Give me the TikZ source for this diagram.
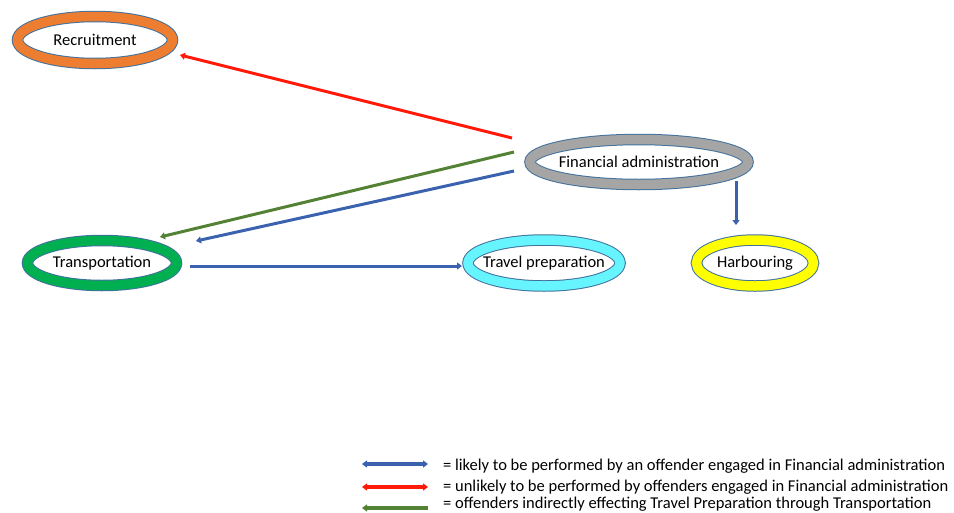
\documentclass[tikz,border=0pt]{standalone}
\usepackage{fontspec}
\setmainfont{Carlito}
\usetikzlibrary{shapes.geometric,arrows.meta}
\definecolor{rimblue}{HTML}{41719C}
\definecolor{ringorange}{HTML}{ED7D31}
\definecolor{ringgray}{HTML}{A5A5A5}
\definecolor{ringgreen}{HTML}{00B050}
\definecolor{ringcyan}{HTML}{66F5FF}
\definecolor{ringyellow}{HTML}{FFFF00}
\definecolor{linkblue}{HTML}{3A62AE}
\definecolor{linkred}{HTML}{FF1A0A}
\definecolor{linkgreen}{HTML}{548235}
\tikzset{
  ring/.style={ellipse, inner xsep=-12pt, inner ysep=-2pt, fill=white, draw=rimblue, line width=1pt,
    double distance=9.5pt, font=\fontsize{16.5}{19}\selectfont},
  link/.style={line width=3pt, -{Triangle[length=5pt,width=7pt]}},
  keyline/.style={line width=3.5pt},
  keytext/.style={anchor=west, inner sep=0pt, font=\fontsize{16.5}{19}\selectfont},
}
\begin{document}
\begin{tikzpicture}[x=1pt,y=-1pt]
\useasboundingbox (0,0) rectangle (954,512);
% role ellipses
\node[ring, double=ringorange, minimum width=155pt, minimum height=47pt] (rec) at (95,40) {Recruitment};
\node[ring, double=ringgray, minimum width=218pt, minimum height=45pt] (fin) at (639,162) {Financial administration};
\node[ring, double=ringgreen, minimum width=149pt, minimum height=45pt] (tra) at (102,263) {Transportation};
\node[ring, double=ringcyan, minimum width=152pt, minimum height=46pt] (tp) at (544,263) {Travel preparation};
\node[ring, double=ringyellow, minimum width=117pt, minimum height=46pt] (har) at (755,263) {Harbouring};
% links between roles
\draw[link, linkred] ([shift={(-127,-24)}]fin.center) -- ([shift={(85,15)}]rec.center);
\draw[link, linkgreen] ([shift={(-125,-10)}]fin.center) -- ([shift={(58,-26)}]tra.center);
\draw[link, linkblue] ([shift={(-125,9)}]fin.center) -- ([shift={(94,-22)}]tra.center);
\draw[link, linkblue] ([shift={(88,3)}]tra.center) -- ([shift={(-82,3)}]tp.center);
\draw[link, linkblue] ([shift={(97,19)}]fin.center) -- ([shift={(-19,-38)}]har.center);
% key
\coordinate (kb1) at (362,464); \coordinate (kb2) at (428,464);
\coordinate (kr1) at (362,487); \coordinate (kr2) at (428,487);
\coordinate (kg1) at (362,508); \coordinate (kg2) at (428,508);
\draw[keyline, linkblue, {Triangle[length=5pt,width=7pt]}-{Triangle[length=5pt,width=7pt]}] (kb1) -- (kb2);
\draw[keyline, linkred, {Triangle[length=5pt,width=7pt]}-{Triangle[length=5pt,width=7pt]}] (kr1) -- (kr2);
\draw[keyline, linkgreen, {Triangle[length=5pt,width=7pt]}-] (kg1) -- (kg2);
\node[keytext] (t1) at (443,466) {= likely to be performed by an offender engaged in Financial administration};
\node[keytext] (t2) at (443,487) {= unlikely to be performed by offenders engaged in Financial administration};
\node[keytext] (t3) at (443,504) {= offenders indirectly effecting Travel Preparation through Transportation};
\end{tikzpicture}
\end{document}
